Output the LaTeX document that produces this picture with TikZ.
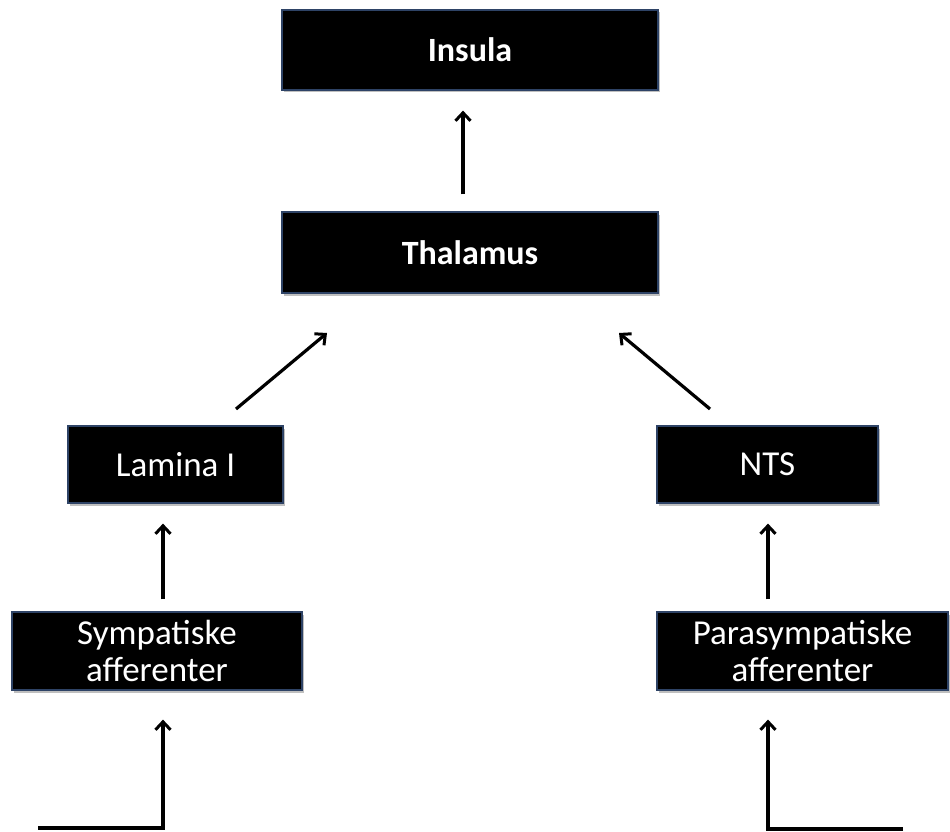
\documentclass[tikz,border=0pt]{standalone}
\usepackage{fontspec}
\setmainfont{Carlito}
\usetikzlibrary{arrows.meta,shadows}
\definecolor{boxedge}{HTML}{2E4366}
\begin{document}
\begin{tikzpicture}[x=1pt,y=-1pt,
  block/.style={draw=boxedge, line width=1.2pt, fill=black, text=white,
    inner sep=0pt, align=center,
    font=\fontsize{35}{37}\selectfont,
    drop shadow={shadow xshift=1.5pt, shadow yshift=-2.5pt, opacity=0.25, fill=black}},
  boldblock/.style={block, font=\fontsize{34}{37}\selectfont\bfseries},
  arr/.style={line width=3.2pt, line join=miter,
    -{Straight Barb[length=8pt,width=15pt,line width=3pt]}}]
\useasboundingbox (0,0) rectangle (950,832);

% boxes
\node[boldblock, minimum width=376pt, minimum height=80pt] (insula) at (470,50) {Insula};
\node[boldblock, minimum width=376pt, minimum height=81pt] (thal) at (470,252.5) {Thalamus};
\node[block, minimum width=215pt, minimum height=77pt] (lam) at (175.5,464.5) {Lamina I};
\node[block, minimum width=221pt, minimum height=77pt] (nts) at (767.5,464.5) {NTS};
\node[block, minimum width=290pt, minimum height=78pt] (symp) at (157,651) {Sympatiske\\afferenter};
\node[block, minimum width=291pt, minimum height=78pt] (para) at (802.5,651) {Parasympatiske\\afferenter};

% free ends of the connectors
\coordinate (ls) at (236,409);
\coordinate (le) at (327,333);
\coordinate (rs) at (710,409);
\coordinate (re) at (619,333);
\coordinate (bl0) at (38,828);
\coordinate (bl1) at (163,828);
\coordinate (br0) at (903,829);
\coordinate (br1) at (768,829);

% connectors
\draw[arr, shorten <=17pt, shorten >=20pt] (thal.north -| 463,0) -- (insula.south -| 463,0);
\draw[arr] (ls) -- (le);
\draw[arr] (rs) -- (re);
\draw[arr, shorten <=12pt, shorten >=20pt] (symp.north -| 163,0) -- (lam.south -| 163,0);
\draw[arr, shorten <=12pt, shorten >=20pt] (para.north -| 768,0) -- (nts.south -| 768,0);
\draw[arr, shorten >=29pt] (bl0) -- (bl1) -- (bl1 |- symp.south);
\draw[arr, shorten >=29pt] (br0) -- (br1) -- (br1 |- para.south);
\end{tikzpicture}
\end{document}
